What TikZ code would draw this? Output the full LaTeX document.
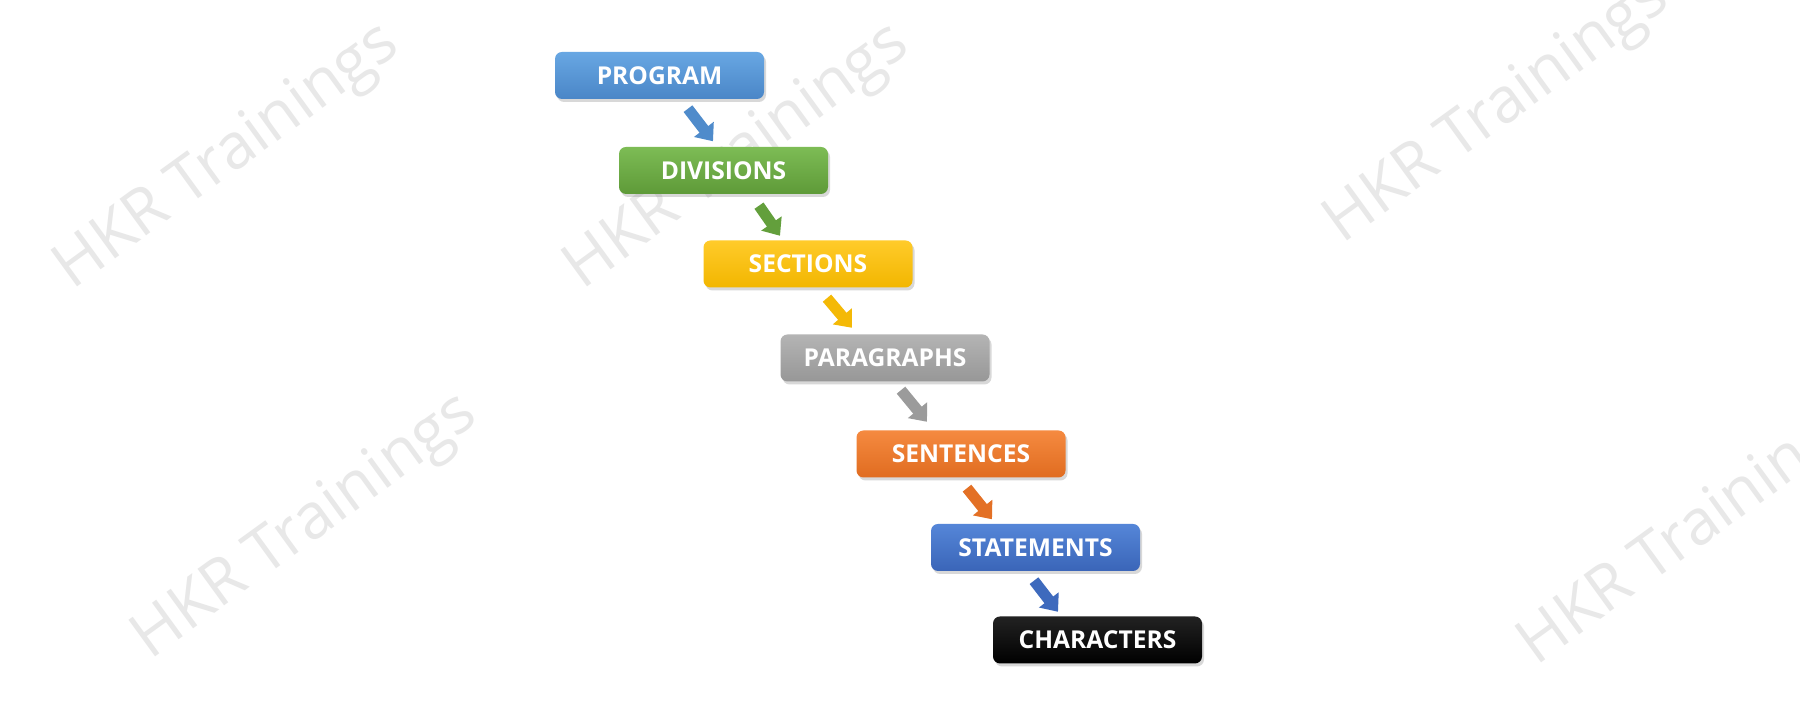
\documentclass[tikz,border=0pt]{standalone}
\usepackage{fontspec}
\setmainfont{Open Sans}
\usepackage{xcolor}
\usepackage{tikz}
\usetikzlibrary{calc, arrows.meta, positioning, shadows}

\definecolor{progtop}{HTML}{68A7E3}
\definecolor{progbot}{HTML}{4A86C7}
\definecolor{divtop}{HTML}{7DBC55}
\definecolor{divbot}{HTML}{5E9A38}
\definecolor{secttop}{HTML}{FFCB2A}
\definecolor{sectbot}{HTML}{F2B600}
\definecolor{paratop}{HTML}{B4B4B4}
\definecolor{parabot}{HTML}{979797}
\definecolor{senttop}{HTML}{F58A40}
\definecolor{sentbot}{HTML}{E06C20}
\definecolor{stattop}{HTML}{5586D8}
\definecolor{statbot}{HTML}{3A65B8}
\definecolor{chartop}{HTML}{222222}
\definecolor{charbot}{HTML}{000000}
\definecolor{wmarkgray}{HTML}{E8E8E8}

\begin{document}
\begin{tikzpicture}[auto, >=latex]
		\tikzstyle{stage} = [rounded corners=0.07cm, minimum width=2.09cm, minimum height=0.47cm, inner sep=0pt, text=white, font=\bfseries\fontsize{7}{8}\selectfont, drop shadow={shadow xshift=0.02cm, shadow yshift=-0.03cm, opacity=0.3}]
		\tikzstyle{wmark} = [text=wmarkgray, font=\fontsize{18}{21}\selectfont, rotate=36]
		\tikzstyle{flow} = [line width=0.11cm, -{Triangle[length=0.15cm, width=0.24cm]}]
		
		\useasboundingbox (0, 0) rectangle (18, 7.2);
		\clip (0, 0) rectangle (18, 7.2);
		\fill[white] (0, 0) rectangle (18, 7.2);
		
		% watermarks
		\node[wmark] at (2.28, 5.62)	(w1) {HKR Trainings};
		\node[wmark] at (7.38, 5.62)	(w2) {HKR Trainings};
		\node[wmark] at (3.06, 1.92)	(w3) {HKR Trainings};
		\node[wmark] at (14.98, 6.08)	(w4) {HKR Trainings};
		\node[wmark] at (16.92, 1.86)	(w5) {HKR Trainings};
		
		\node[stage, top color=progtop, bottom color=progbot] 	at (6.595, 6.445) 	(prog) 	{PROGRAM};
		\node[stage, top color=divtop, bottom color=divbot] 	at (7.235, 5.495)	(div) 	{DIVISIONS};
		\node[stage, top color=secttop, bottom color=sectbot] 	at (8.08, 4.56)		(sect) 	{SECTIONS};
		\node[stage, top color=paratop, bottom color=parabot] 	at (8.85, 3.62)		(para) 	{PARAGRAPHS};
		\node[stage, top color=senttop, bottom color=sentbot] 	at (9.61, 2.66)		(sent) 	{SENTENCES};
		\node[stage, top color=stattop, bottom color=statbot] 	at (10.355, 1.725)	(stat) 	{STATEMENTS};
		\node[stage, top color=chartop, bottom color=charbot] 	at (10.975, 0.80)	(char) 	{CHARACTERS};
		
		\draw[flow, progbot!85!progtop]	([shift={(0.285, -0.09)}]prog.south)	-- ([shift={(-0.105, 0.05)}]div.north);
		\draw[flow, divbot!85!divtop]	([shift={(0.355, -0.11)}]div.south)	-- ([shift={(-0.28, 0.04)}]sect.north);
		\draw[flow, sectbot!85!secttop]	([shift={(0.19, -0.10)}]sect.south)	-- ([shift={(-0.33, 0.06)}]para.north);
		\draw[flow, parabot!85!paratop]	([shift={(0.16, -0.08)}]para.south)	-- ([shift={(-0.34, 0.08)}]sent.north);
		\draw[flow, sentbot!85!senttop]	([shift={(0.06, -0.10)}]sent.south)	-- ([shift={(-0.435, 0.04)}]stat.north);
		\draw[flow, statbot!85!stattop]	([shift={(-0.015, -0.09)}]stat.south)	-- ([shift={(-0.395, 0.04)}]char.north);
	\end{tikzpicture}
\end{document}
